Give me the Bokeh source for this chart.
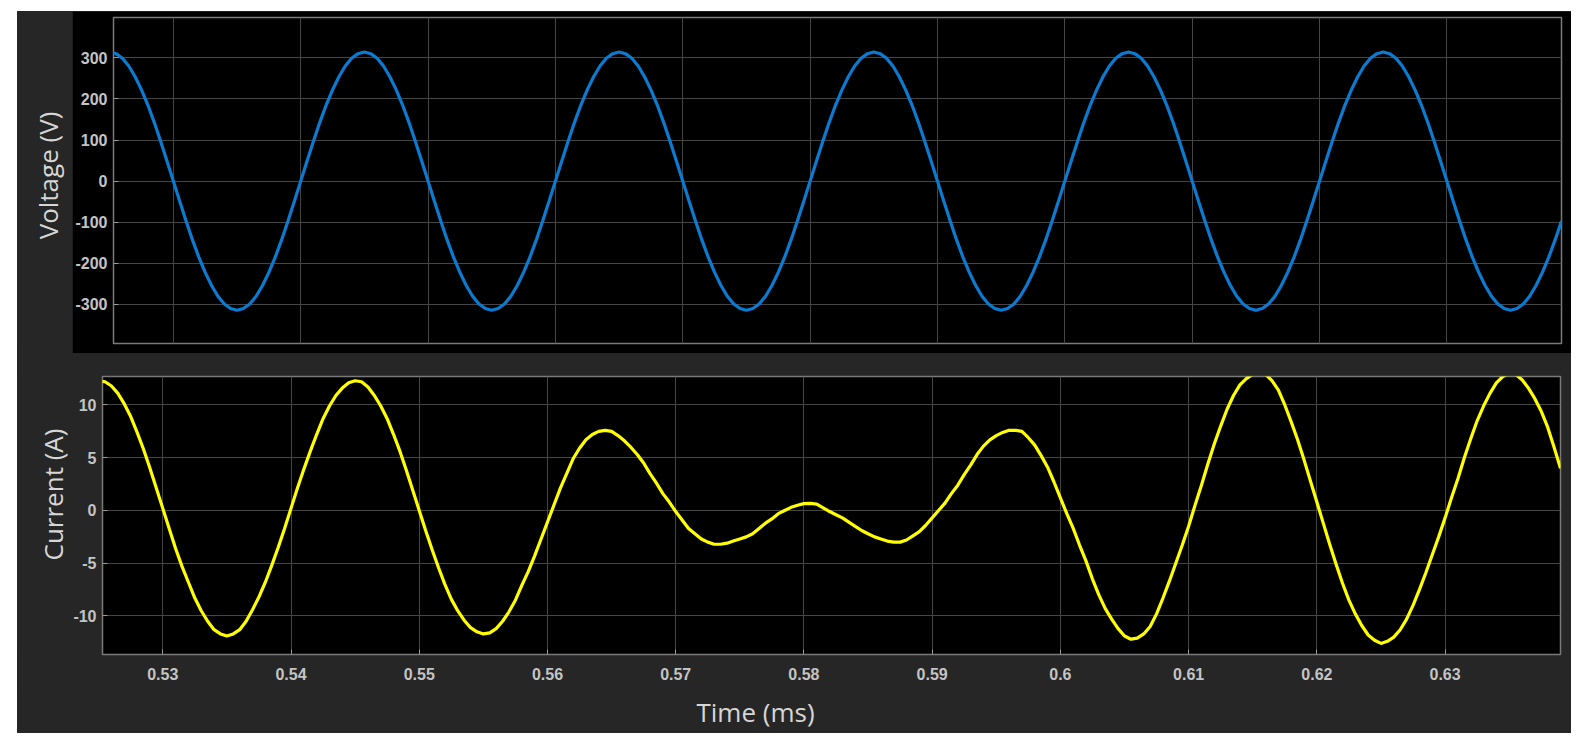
from math import pi
from bokeh.plotting import figure
from bokeh.layouts import column, row
from bokeh.models import FixedTicker, Label, Range1d
from bokeh.embed import file_html
from bokeh.resources import INLINE

# ---------------- data ----------------
time_ms = [
    0.5250, 0.5255, 0.5260, 0.5265, 0.5270, 0.5275, 0.5280, 0.5285, 0.5290, 0.5295,
    0.5300, 0.5305, 0.5310, 0.5315, 0.5320, 0.5325, 0.5330, 0.5335, 0.5340, 0.5345,
    0.5350, 0.5355, 0.5360, 0.5365, 0.5370, 0.5375, 0.5380, 0.5385, 0.5390, 0.5395,
    0.5400, 0.5405, 0.5410, 0.5415, 0.5420, 0.5425, 0.5430, 0.5435, 0.5440, 0.5445,
    0.5450, 0.5455, 0.5460, 0.5465, 0.5470, 0.5475, 0.5480, 0.5485, 0.5490, 0.5495,
    0.5500, 0.5505, 0.5510, 0.5515, 0.5520, 0.5525, 0.5530, 0.5535, 0.5540, 0.5545,
    0.5550, 0.5555, 0.5560, 0.5565, 0.5570, 0.5575, 0.5580, 0.5585, 0.5590, 0.5595,
    0.5600, 0.5605, 0.5610, 0.5615, 0.5620, 0.5625, 0.5630, 0.5635, 0.5640, 0.5645,
    0.5650, 0.5655, 0.5660, 0.5665, 0.5670, 0.5675, 0.5680, 0.5685, 0.5690, 0.5695,
    0.5700, 0.5705, 0.5710, 0.5715, 0.5720, 0.5725, 0.5730, 0.5735, 0.5740, 0.5745,
    0.5750, 0.5755, 0.5760, 0.5765, 0.5770, 0.5775, 0.5780, 0.5785, 0.5790, 0.5795,
    0.5800, 0.5805, 0.5810, 0.5815, 0.5820, 0.5825, 0.5830, 0.5835, 0.5840, 0.5845,
    0.5850, 0.5855, 0.5860, 0.5865, 0.5870, 0.5875, 0.5880, 0.5885, 0.5890, 0.5895,
    0.5900, 0.5905, 0.5910, 0.5915, 0.5920, 0.5925, 0.5930, 0.5935, 0.5940, 0.5945,
    0.5950, 0.5955, 0.5960, 0.5965, 0.5970, 0.5975, 0.5980, 0.5985, 0.5990, 0.5995,
    0.6000, 0.6005, 0.6010, 0.6015, 0.6020, 0.6025, 0.6030, 0.6035, 0.6040, 0.6045,
    0.6050, 0.6055, 0.6060, 0.6065, 0.6070, 0.6075, 0.6080, 0.6085, 0.6090, 0.6095,
    0.6100, 0.6105, 0.6110, 0.6115, 0.6120, 0.6125, 0.6130, 0.6135, 0.6140, 0.6145,
    0.6150, 0.6155, 0.6160, 0.6165, 0.6170, 0.6175, 0.6180, 0.6185, 0.6190, 0.6195,
    0.6200, 0.6205, 0.6210, 0.6215, 0.6220, 0.6225, 0.6230, 0.6235, 0.6240, 0.6245,
    0.6250, 0.6255, 0.6260, 0.6265, 0.6270, 0.6275, 0.6280, 0.6285, 0.6290, 0.6295,
    0.6300, 0.6305, 0.6310, 0.6315, 0.6320, 0.6325, 0.6330, 0.6335, 0.6340, 0.6345,
    0.6350, 0.6355, 0.6360, 0.6365, 0.6370, 0.6375, 0.6380, 0.6385, 0.6390,
]

voltage_v = [
    314, 310, 299, 280, 254, 222, 185, 143, 97, 49, 0, -49, -97, -143, -185, -222, -254, -280, -299, -310,
    -314, -310, -299, -280, -254, -222, -185, -143, -97, -49, 0, 49, 97, 143, 185, 222, 254, 280, 299, 310,
    314, 310, 299, 280, 254, 222, 185, 143, 97, 49, 0, -49, -97, -143, -185, -222, -254, -280, -299, -310,
    -314, -310, -299, -280, -254, -222, -185, -143, -97, -49, 0, 49, 97, 143, 185, 222, 254, 280, 299, 310,
    314, 310, 299, 280, 254, 222, 185, 143, 97, 49, 0, -49, -97, -143, -185, -222, -254, -280, -299, -310,
    -314, -310, -299, -280, -254, -222, -185, -143, -97, -49, 0, 49, 97, 143, 185, 222, 254, 280, 299, 310,
    314, 310, 299, 280, 254, 222, 185, 143, 97, 49, 0, -49, -97, -143, -185, -222, -254, -280, -299, -310,
    -314, -310, -299, -280, -254, -222, -185, -143, -97, -49, 0, 49, 97, 143, 185, 222, 254, 280, 299, 310,
    314, 310, 299, 280, 254, 222, 185, 143, 97, 49, 0, -49, -97, -143, -185, -222, -254, -280, -299, -310,
    -314, -310, -299, -280, -254, -222, -185, -143, -97, -49, 0, 49, 97, 143, 185, 222, 254, 280, 299, 310,
    314, 310, 299, 280, 254, 222, 185, 143, 97, 49, 0, -49, -97, -143, -185, -222, -254, -280, -299, -310,
    -314, -310, -299, -280, -254, -222, -185, -143, -97,
]

current_a = [
    12.3, 12.2, 11.8, 11.1, 10.1, 8.9, 7.4, 5.8, 4.0, 2.1,
    0.2, -1.7, -3.6, -5.3, -6.8, -8.3, -9.5, -10.5, -11.3, -11.7,
    -11.9, -11.7, -11.3, -10.5, -9.4, -8.2, -6.8, -5.2, -3.5, -1.7,
    0.2, 2.1, 3.9, 5.6, 7.2, 8.7, 9.9, 10.9, 11.6, 12.1,
    12.3, 12.2, 11.7, 10.9, 9.9, 8.7, 7.2, 5.6, 3.8, 1.9,
    0.0, -1.9, -3.7, -5.4, -7.0, -8.4, -9.5, -10.4, -11.1, -11.5,
    -11.7, -11.6, -11.2, -10.5, -9.6, -8.5, -7.1, -5.8, -4.3, -2.7,
    -1.1, 0.5, 2.1, 3.5, 4.9, 5.9, 6.7, 7.2, 7.5, 7.6,
    7.5, 7.1, 6.6, 6.0, 5.3, 4.5, 3.5, 2.6, 1.6, 0.8,
    -0.1, -0.9, -1.7, -2.2, -2.7, -3.0, -3.2, -3.2, -3.1, -2.9,
    -2.7, -2.5, -2.2, -1.7, -1.2, -0.8, -0.3, 0.0, 0.3, 0.5,
    0.65, 0.67, 0.6, 0.25, -0.1, -0.4, -0.7, -1.1, -1.5, -1.9,
    -2.2, -2.5, -2.7, -2.9, -3.0, -3.0, -2.8, -2.4, -2.0, -1.4,
    -0.7, 0.0, 0.7, 1.6, 2.4, 3.4, 4.3, 5.3, 6.1, 6.7,
    7.1, 7.4, 7.6, 7.6, 7.5, 6.9, 6.2, 5.2, 4.1, 2.7,
    1.2, -0.3, -1.7, -3.3, -4.8, -6.5, -8.0, -9.3, -10.3, -11.2,
    -11.9, -12.2, -12.1, -11.7, -11.0, -9.8, -8.3, -6.7, -5.0, -3.3,
    -1.5, 0.5, 2.4, 4.4, 6.3, 8.0, 9.6, 10.9, 11.9, 12.5,
    12.9, 13.1, 12.9, 12.3, 11.4, 10.0, 8.4, 6.7, 4.8, 2.8,
    0.8, -1.2, -3.2, -5.1, -6.9, -8.5, -9.8, -10.9, -11.8, -12.3,
    -12.6, -12.4, -12.0, -11.3, -10.3, -9.0, -7.5, -5.9, -4.2, -2.5,
    -0.7, 1.2, 3.0, 5.0, 6.8, 8.5, 9.9, 11.1, 12.1, 12.7,
    13.0, 12.9, 12.4, 11.6, 10.6, 9.4, 7.9, 6.0, 4.0,
]

x_ticks = [0.53, 0.54, 0.55, 0.56, 0.57, 0.58, 0.59, 0.60, 0.61, 0.62, 0.63]
x_tick_labels = ["0.53", "0.54", "0.55", "0.56", "0.57", "0.58", "0.59",
                 "0.6", "0.61", "0.62", "0.63"]
v_ticks = [-300, -200, -100, 0, 100, 200, 300]
v_tick_labels = ["-300", "-200", "-100", "0", "100", "200", "300"]
i_ticks = [-10, -5, 0, 5, 10]
i_tick_labels = ["-10", "-5", "0", "5", "10"]

x_label = "Time (ms)"
v_label = "Voltage (V)"
i_label = "Current (A)"

# ---------------- styling ----------------
DARK = "#262626"
GRID = "#454545"
FRAME = "#7a7a7a"
TICK_TXT = "#c4c4c4"
TITLE_TXT = "#d6d6d6"
TICK_FONT = "Liberation Sans"
TITLE_FONT = "Open Sans"
TITLE_SIZE = "26px"

x_range = Range1d(0.5253, 0.639)


def style(p, yt, ytl):
    p.background_fill_color = "black"
    p.outline_line_color = FRAME
    p.outline_line_width = 1.5
    p.xgrid.ticker = FixedTicker(ticks=x_ticks)
    p.ygrid.ticker = FixedTicker(ticks=yt)
    p.grid.grid_line_color = GRID
    p.grid.grid_line_width = 1
    p.yaxis.ticker = FixedTicker(ticks=yt)
    p.yaxis.major_label_overrides = dict(zip(yt, ytl))
    p.yaxis.axis_line_color = None
    p.yaxis.major_tick_line_color = "#9a9a9a"
    p.yaxis.major_tick_in = 5
    p.yaxis.major_tick_out = 0
    p.yaxis.minor_tick_line_color = None
    p.yaxis.major_label_text_font = TICK_FONT
    p.yaxis.major_label_text_font_style = "bold"
    p.yaxis.major_label_text_font_size = "16px"
    p.yaxis.major_label_text_color = TICK_TXT
    p.yaxis.major_label_standoff = 6


def label_panel(w, h, text, cx, cy, angle):
    f = figure(width=w, height=h, x_axis_type=None, y_axis_type=None,
               output_backend="svg", toolbar_location=None, min_border=0)
    f.background_fill_color = DARK
    f.border_fill_color = DARK
    f.outline_line_color = None
    f.grid.visible = False
    f.add_layout(Label(x=cx, y=cy, x_units="canvas", y_units="canvas",
                       text=text, angle=angle, text_align="center",
                       text_baseline="middle", text_font=TITLE_FONT,
                       text_font_size=TITLE_SIZE, text_color=TITLE_TXT))
    return f


# ---------------- top: voltage ----------------
p_top = figure(width=1499, height=342, x_range=x_range,
               y_range=Range1d(-395, 398),
               output_backend="svg", toolbar_location=None,
               min_border_left=41, min_border_right=10,
               min_border_top=6, min_border_bottom=10)
p_top.border_fill_color = "black"
style(p_top, v_ticks, v_tick_labels)
p_top.xaxis.visible = False
p_top.line(time_ms, voltage_v, line_color="#0b7bd2", line_width=3.2)

p_vlab = label_panel(55, 342, v_label, 30, 164, pi / 2)

# ---------------- bottom: current ----------------
p_bot = figure(width=1501, height=337, x_range=x_range,
               y_range=Range1d(-13.65, 12.7),
               output_backend="svg", toolbar_location=None,
               min_border_left=32, min_border_right=11,
               min_border_top=23, min_border_bottom=36)
p_bot.border_fill_color = DARK
style(p_bot, i_ticks, i_tick_labels)
p_bot.xaxis.ticker = FixedTicker(ticks=x_ticks)
p_bot.xaxis.major_label_overrides = dict(zip(x_ticks, x_tick_labels))
p_bot.xaxis.axis_line_color = None
p_bot.xaxis.major_tick_line_color = "#9a9a9a"
p_bot.xaxis.major_tick_in = 5
p_bot.xaxis.major_tick_out = 0
p_bot.xaxis.minor_tick_line_color = None
p_bot.xaxis.major_label_text_font = TICK_FONT
p_bot.xaxis.major_label_text_font_style = "bold"
p_bot.xaxis.major_label_text_font_size = "16px"
p_bot.xaxis.major_label_text_color = TICK_TXT
p_bot.xaxis.major_label_standoff = 13
p_bot.line(time_ms, current_a, line_color="#ffff00", line_width=3.2)

p_ilab = label_panel(53, 337, i_label, 35, 141, pi / 2)
p_tlab = label_panel(1554, 43, x_label, 738, 21, 0)

layout = column(row(p_vlab, p_top, spacing=0),
                row(p_ilab, p_bot, spacing=0),
                p_tlab, spacing=0,
                margin=(11, 0, 0, 17),
                styles={"background-color": DARK})

open("out.html", "w").write(file_html(layout, INLINE))
